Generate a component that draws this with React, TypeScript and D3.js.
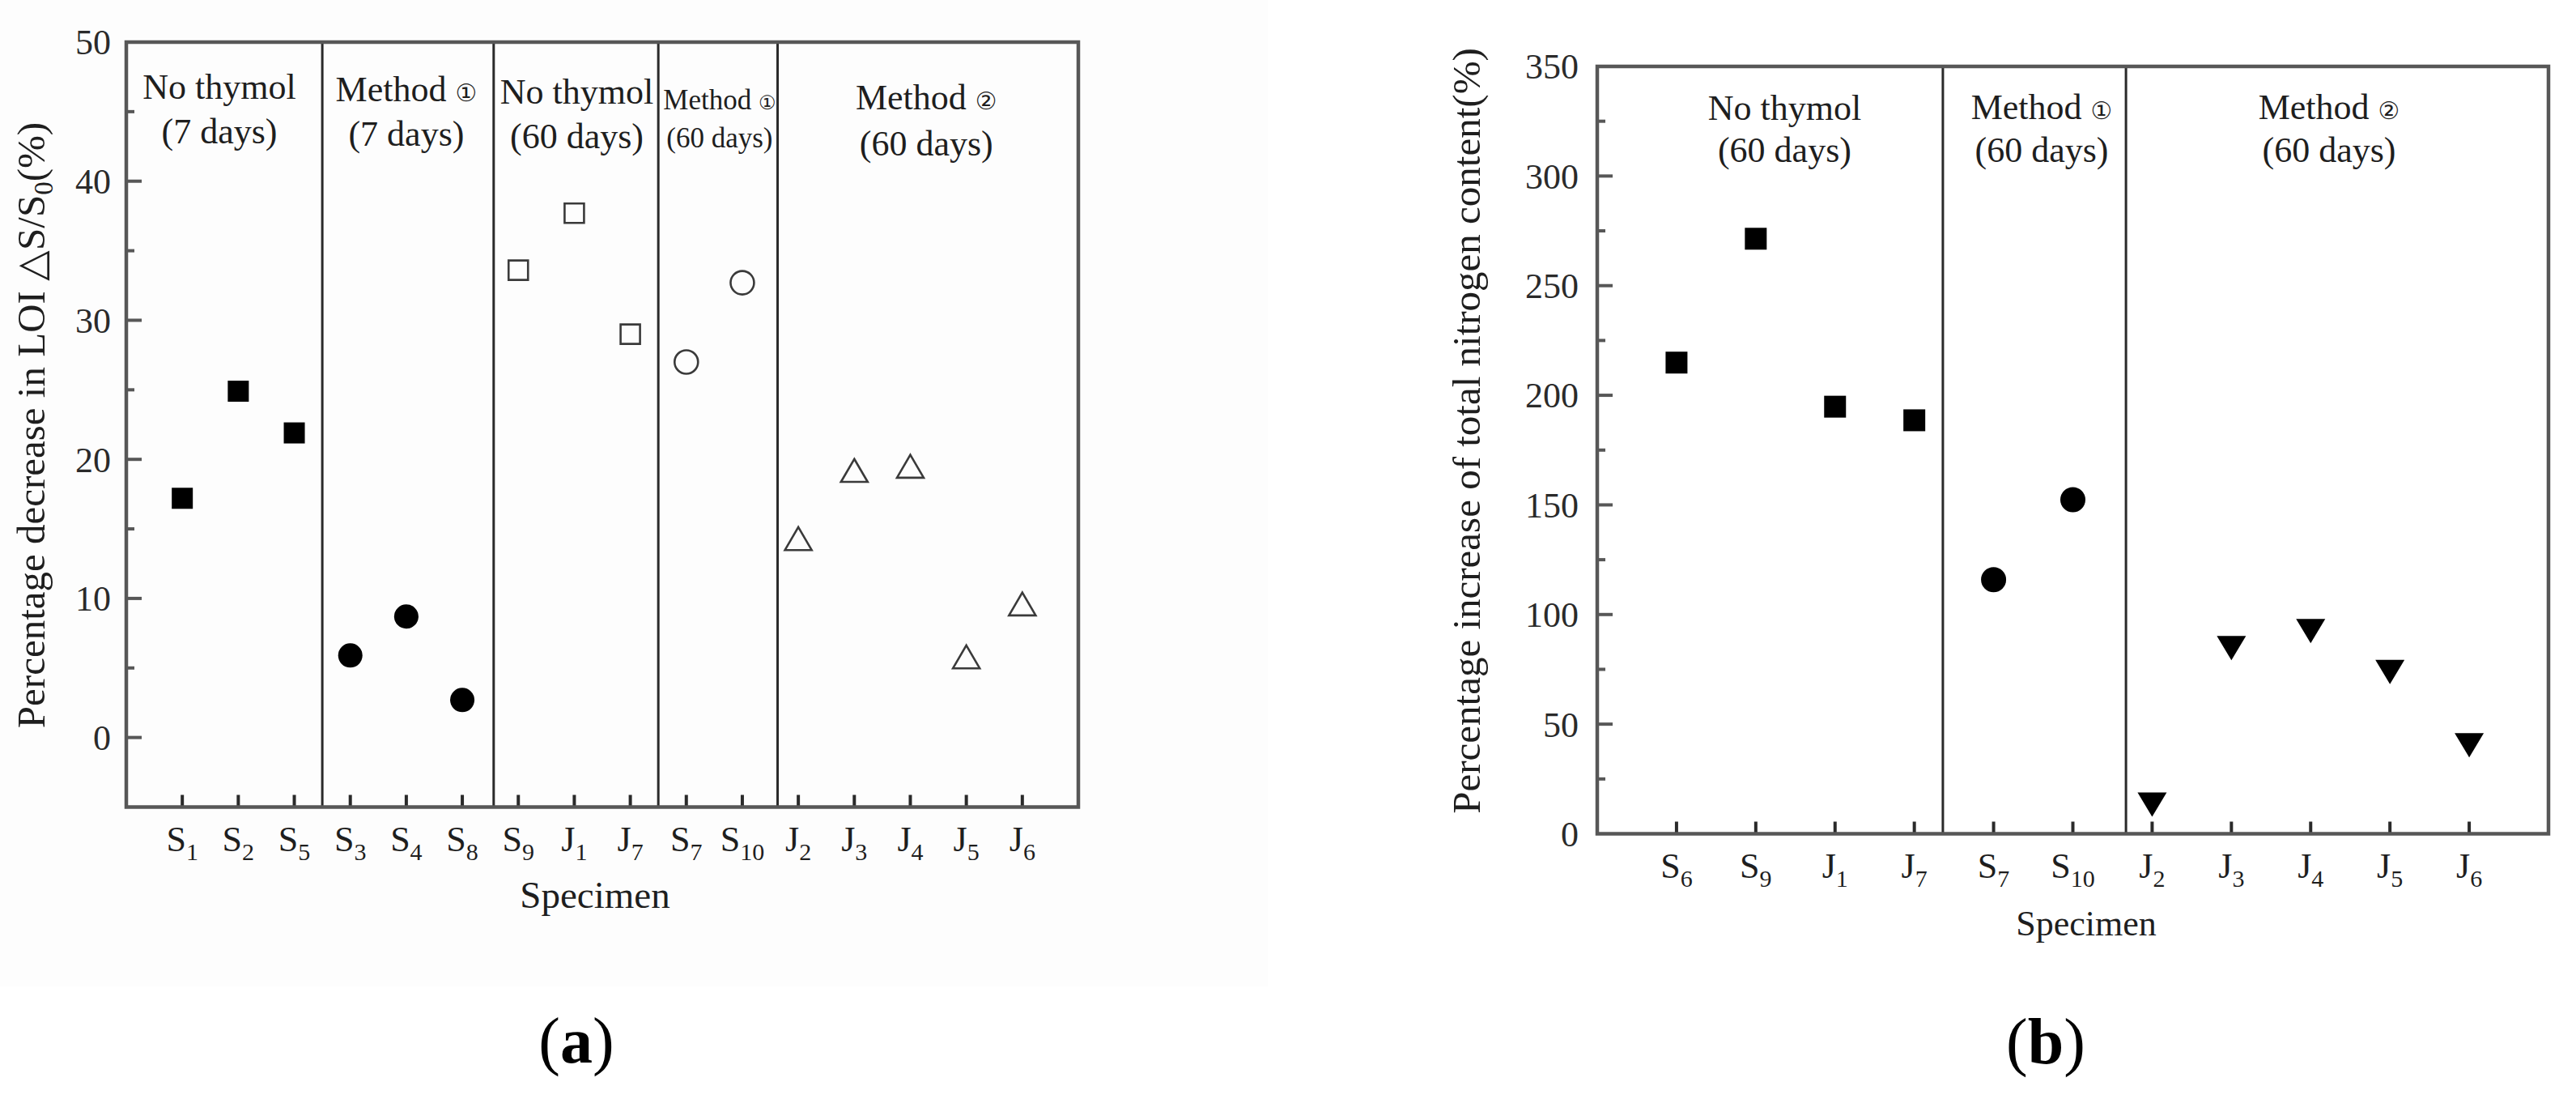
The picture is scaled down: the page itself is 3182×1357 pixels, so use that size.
import React, { useEffect } from 'react';
import * as d3 from 'd3';

// ---------------- Panel (a) data ----------------
const catsA = ['S1', 'S2', 'S5', 'S3', 'S4', 'S8', 'S9', 'J1', 'J7', 'S7', 'S10', 'J2', 'J3', 'J4', 'J5', 'J6'];
const noThymol7Cats = ['S1', 'S2', 'S5'];
const noThymol7 = [17.2, 24.9, 21.9];
const method1d7Cats = ['S3', 'S4', 'S8'];
const method1d7 = [5.9, 8.7, 2.7];
const noThymol60Cats = ['S9', 'J1', 'J7'];
const noThymol60 = [33.6, 37.7, 29.0];
const method1d60Cats = ['S7', 'S10'];
const method1d60 = [27.0, 32.7];
const method2d60Cats = ['J2', 'J3', 'J4', 'J5', 'J6'];
const method2d60 = [14.3, 19.2, 19.5, 5.8, 9.6];
const yDomainA = [-5, 50];
const yTicksA = [0, 10, 20, 30, 40, 50];
const yMinorA = [5, 15, 25, 35, 45];
const dividersA = [3.5, 6.56, 9.5, 11.63];
const groupsA = [
  ['No thymol', '(7 days)'],
  ['Method ①', '(7 days)'],
  ['No thymol', '(60 days)'],
  ['Method ①', '(60 days)'],
  ['Method ②', '(60 days)'],
];

// ---------------- Panel (b) data ----------------
const catsB = ['S6', 'S9', 'J1', 'J7', 'S7', 'S10', 'J2', 'J3', 'J4', 'J5', 'J6'];
const noThymolBCats = ['S6', 'S9', 'J1', 'J7'];
const noThymolB = [214.9, 271.4, 194.8, 188.6];
const method1BCats = ['S7', 'S10'];
const method1B = [115.9, 152.4];
const method2BCats = ['J2', 'J3', 'J4', 'J5', 'J6'];
const method2B = [13.3, 84.7, 92.4, 73.8, 40.4];
const yDomainB = [0, 350];
const yTicksB = [0, 50, 100, 150, 200, 250, 300, 350];
const yMinorB = [25, 75, 125, 175, 225, 275, 325];
const dividersB = [4.36, 6.67];
const groupsB = [
  ['No thymol', '(60 days)'],
  ['Method ①', '(60 days)'],
  ['Method ②', '(60 days)'],
];

const FONT = '"Liberation Serif", "Times New Roman", Times, serif';
const INK = '#1e1e1e';
const FRAME = '#575757';

// custom marker types for d3.symbol (size = width^2)
const triUp = {
  draw(ctx: any, size: number) {
    const w = Math.sqrt(size);
    const h = (w * 30) / 35;
    ctx.moveTo(0, -h / 2);
    ctx.lineTo(w / 2, h / 2);
    ctx.lineTo(-w / 2, h / 2);
    ctx.closePath();
  },
};
const triDown = {
  draw(ctx: any, size: number) {
    const w = Math.sqrt(size);
    const h = (w * 30) / 36;
    ctx.moveTo(0, h / 2);
    ctx.lineTo(w / 2, -h / 2);
    ctx.lineTo(-w / 2, -h / 2);
    ctx.closePath();
  },
};
const squareT = {
  draw(ctx: any, size: number) {
    const s = Math.sqrt(size);
    ctx.rect(-s / 2, -s / 2, s, s);
  },
};

function markerPath(shape: string, dim: number) {
  if (shape === 'circle') return d3.symbol().type(d3.symbolCircle).size(Math.PI * (dim / 2) * (dim / 2))()!;
  if (shape === 'square') return d3.symbol().type(squareT as any).size(dim * dim)()!;
  if (shape === 'triUp') return d3.symbol().type(triUp as any).size(dim * dim)()!;
  return d3.symbol().type(triDown as any).size(dim * dim)()!;
}

function Rich({ text, fs }: { text: string; fs: number }) {
  const parts = text.split(/([①②])/).filter((s) => s.length > 0);
  return (
    <>
      {parts.map((s, i) =>
        s === '①' || s === '②' ? (
          <tspan key={i} fontFamily='"DejaVu Sans", "Noto Sans CJK SC", sans-serif' fontSize={fs * 0.68}>
            {s}
          </tspan>
        ) : (
          <tspan key={i}>{s}</tspan>
        )
      )}
    </>
  );
}

function CatLabel({ label, x, y }: { label: string; x: number; y: number }) {
  const m = label.match(/^([A-Za-z]+)(\d+)$/)!;
  return (
    <text x={x} y={y} textAnchor="middle" fontFamily={FONT} fontSize={44} fill={INK}>
      <tspan>{m[1]}</tspan>
      <tspan fontSize={30} dy={11}>{m[2]}</tspan>
    </text>
  );
}

type Series = { cats: string[]; values: number[]; shape: string; filled: boolean; dim: number };

function Panel(p: {
  cats: string[];
  xRange: [number, number];
  yDomain: number[];
  yRange: [number, number];
  yTicks: number[];
  yMinor: number[];
  dividers: number[];
  groups: string[][];
  groupNudge: number[];
  groupY: number[][];
  groupFont: number[];
  series: Series[];
  tickLabelRight: number;
}) {
  const x = d3.scaleLinear().domain([0, p.cats.length + 1]).range(p.xRange);
  const y = d3.scaleLinear().domain(p.yDomain).range(p.yRange);
  const [x0, x1] = p.xRange;
  const yb = y(p.yDomain[0]);
  const yt = y(p.yDomain[1]);
  const bounds = [0, ...p.dividers, p.cats.length + 1];
  return (
    <g>
      {p.dividers.map((d, i) => (
        <line key={'dv' + i} x1={x(d)} x2={x(d)} y1={yt} y2={yb} stroke="#2a2a2a" strokeWidth={3} />
      ))}
      {p.groups.map((g, i) => {
        const cx = (x(bounds[i]) + x(bounds[i + 1])) / 2 + p.groupNudge[i];
        const fs = p.groupFont[i];
        return (
          <g key={'gr' + i}>
            <text x={cx} y={p.groupY[i][0]} textAnchor="middle" fontFamily={FONT} fontSize={fs} fill={INK}>
              <Rich text={g[0]} fs={fs} />
            </text>
            <text x={cx} y={p.groupY[i][1]} textAnchor="middle" fontFamily={FONT} fontSize={fs} fill={INK}>
              {g[1]}
            </text>
          </g>
        );
      })}
      {p.yTicks.map((t) => (
        <g key={'yt' + t}>
          {t !== p.yDomain[1] && t !== p.yDomain[0] ? (
            <line x1={x0} x2={x0 + 19} y1={y(t)} y2={y(t)} stroke={FRAME} strokeWidth={4} />
          ) : null}
          <text x={p.tickLabelRight} y={y(t)} dy="0.35em" textAnchor="end" fontFamily={FONT} fontSize={44} fill="#2a2a2a">
            {t}
          </text>
        </g>
      ))}
      {p.yMinor.map((t) => (
        <line key={'ym' + t} x1={x0} x2={x0 + 10} y1={y(t)} y2={y(t)} stroke={FRAME} strokeWidth={4} />
      ))}
      {p.cats.map((c, i) => (
        <g key={'xt' + c}>
          <line x1={x(i + 1)} x2={x(i + 1)} y1={yb} y2={yb - 15} stroke="#2a2a2a" strokeWidth={4} />
          <CatLabel label={c} x={x(i + 1)} y={yb + 54} />
        </g>
      ))}
      <rect x={x0} y={yt} width={x1 - x0} height={yb - yt} fill="none" stroke={FRAME} strokeWidth={4.5} />
      {p.series.map((s, si) =>
        s.values.map((v, vi) => (
          <path
            key={'m' + si + '-' + vi}
            d={markerPath(s.shape, s.dim)}
            transform={`translate(${x(p.cats.indexOf(s.cats[vi]) + 1)},${y(v)})`}
            fill={s.filled ? '#000' : 'none'}
            stroke={s.filled ? 'none' : '#3a3a3a'}
            strokeWidth={s.filled ? 0 : 2.6}
          />
        ))
      )}
    </g>
  );
}

export default function App() {
  useEffect(() => {
    document.body.style.margin = '0';
  }, []);
  return (
    <svg
      width={3182}
      height={1357}
      viewBox="0 0 3182 1357"
      style={{ display: 'block', position: 'absolute', left: 0, top: 0, background: '#ffffff' }}
    >
      <rect x={0} y={0} width={3182} height={1357} fill="#ffffff" />
      <rect x={0} y={0} width={1566} height={1218} fill="#fdfdfd" />

      <Panel
        cats={catsA}
        xRange={[156, 1332]}
        yDomain={yDomainA}
        yRange={[996.5, 52]}
        yTicks={yTicksA}
        yMinor={yMinorA}
        dividers={dividersA}
        groups={groupsA}
        groupNudge={[-6, -2, 1, 2, -2]}
        groupY={[[122, 177], [125, 180], [128, 183], [135, 182], [135, 192]]}
        groupFont={[44, 44, 44, 35, 44]}
        tickLabelRight={137}
        series={[
          { cats: noThymol7Cats, values: noThymol7, shape: 'square', filled: true, dim: 26 },
          { cats: method1d7Cats, values: method1d7, shape: 'circle', filled: true, dim: 30 },
          { cats: noThymol60Cats, values: noThymol60, shape: 'square', filled: false, dim: 24 },
          { cats: method1d60Cats, values: method1d60, shape: 'circle', filled: false, dim: 29 },
          { cats: method2d60Cats, values: method2d60, shape: 'triUp', filled: false, dim: 33 },
        ]}
      />
      <Panel
        cats={catsB}
        xRange={[1973, 3148]}
        yDomain={yDomainB}
        yRange={[1029.5, 82]}
        yTicks={yTicksB}
        yMinor={yMinorB}
        dividers={dividersB}
        groups={groupsB}
        groupNudge={[18, 9, -10]}
        groupY={[[148, 200], [147, 200], [147, 200]]}
        groupFont={[44, 44, 44]}
        tickLabelRight={1950}
        series={[
          { cats: noThymolBCats, values: noThymolB, shape: 'square', filled: true, dim: 27 },
          { cats: method1BCats, values: method1B, shape: 'circle', filled: true, dim: 31 },
          { cats: method2BCats, values: method2B, shape: 'triDown', filled: true, dim: 36 },
        ]}
      />

      <text transform="translate(55,525) rotate(-90)" textAnchor="middle" fontFamily={FONT} fontSize={49} fill={INK}>
        <tspan>Percentage decrease in LOI △S/S</tspan>
        <tspan fontSize={33} dy={10}>0</tspan>
        <tspan dy={-10}>(%)</tspan>
      </text>
      <text transform="translate(1828,532) rotate(-90)" textAnchor="middle" fontFamily={FONT} fontSize={49} fill={INK}>
        Percentage increase of total nitrogen content(%)
      </text>

      <text x={735} y={1121} textAnchor="middle" fontFamily={FONT} fontSize={47} fill={INK}>
        Specimen
      </text>
      <text x={2577} y={1155} textAnchor="middle" fontFamily={FONT} fontSize={44} fill={INK}>
        Specimen
      </text>

      <text x={712} y={1312} textAnchor="middle" fontFamily={FONT} fontSize={80} fill="#000">
        (<tspan fontWeight="bold">a</tspan>)
      </text>
      <text x={2527} y={1313} textAnchor="middle" fontFamily={FONT} fontSize={80} fill="#000">
        (<tspan fontWeight="bold">b</tspan>)
      </text>
    </svg>
  );
}
